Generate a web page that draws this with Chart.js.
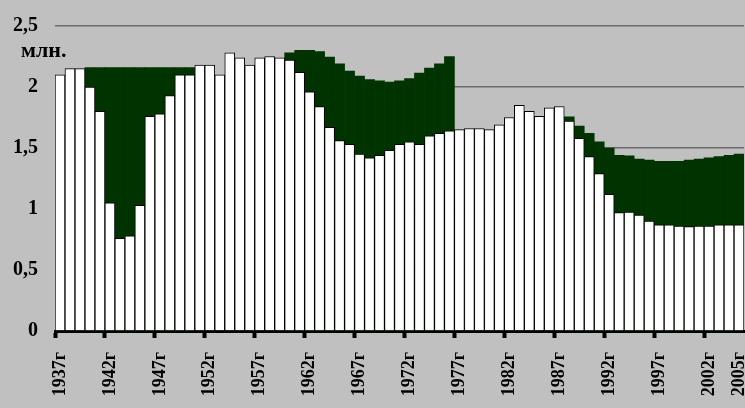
<!DOCTYPE html>
<html>
<head>
<meta charset="utf-8">
<script src="https://cdn.jsdelivr.net/npm/chart.js@4/dist/chart.umd.min.js"></script>
<style>
  html, body { margin: 0; padding: 0; background: #c0c0c0; }
  canvas { display: block; }
</style>
</head>
<body>
<canvas id="barChart" width="745" height="408"></canvas>
<script>
// years on the category axis
const years = [
  "1937г", "1938г", "1939г", "1940г", "1941г", "1942г", "1943г", "1944г", "1945г", "1946г",
  "1947г", "1948г", "1949г", "1950г", "1951г", "1952г", "1953г", "1954г", "1955г", "1956г",
  "1957г", "1958г", "1959г", "1960г", "1961г", "1962г", "1963г", "1964г", "1965г", "1966г",
  "1967г", "1968г", "1969г", "1970г", "1971г", "1972г", "1973г", "1974г", "1975г", "1976г",
  "1977г", "1978г", "1979г", "1980г", "1981г", "1982г", "1983г", "1984г", "1985г", "1986г",
  "1987г", "1988г", "1989г", "1990г", "1991г", "1992г", "1993г", "1994г", "1995г", "1996г",
  "1997г", "1998г", "1999г", "2000г", "2001г", "2002г", "2003г", "2004г", "2005г"
];

// white bars (actual values, mln.)
const actual = [
  2.10, 2.15, 2.15, 2.00, 1.80, 1.05, 0.76, 0.78, 1.03, 1.76,
  1.78, 1.93, 2.10, 2.10, 2.18, 2.18, 2.10, 2.28, 2.24, 2.18,
  2.24, 2.25, 2.24, 2.22, 2.12, 1.96, 1.84, 1.67, 1.56, 1.53,
  1.45, 1.42, 1.44, 1.48, 1.53, 1.55, 1.53, 1.60, 1.62, 1.64,
  1.65, 1.66, 1.66, 1.65, 1.69, 1.75, 1.85, 1.80, 1.76, 1.83,
  1.84, 1.72, 1.58, 1.43, 1.29, 1.12, 0.97, 0.975, 0.95, 0.90,
  0.87, 0.87, 0.86, 0.855, 0.86, 0.86, 0.87, 0.87, 0.87
];

// dark green tops (expected level), null where there is no gap
const expected = [
  null, null, null, 2.16, 2.16, 2.16, 2.16, 2.16, 2.16, 2.16,
  2.16, 2.16, 2.16, 2.16, null, null, null, null, null, null,
  null, null, null, 2.28, 2.30, 2.30, 2.29, 2.245, 2.19, 2.13,
  2.09, 2.06, 2.05, 2.04, 2.05, 2.07, 2.115, 2.155, 2.19, 2.25,
  null, null, null, null, null, null, null, null, null, null,
  null, 1.755, 1.68, 1.62, 1.55, 1.50, 1.44, 1.435, 1.41, 1.40,
  1.39, 1.39, 1.39, 1.40, 1.41, 1.42, 1.43, 1.44, 1.45
];

// labels shown under the axis
const tickLabels = [
  "1937г", "1942г", "1947г", "1952г", "1957г", "1962г", "1967г", "1972г",
  "1977г", "1982г", "1987г", "1992г", "1997г", "2002г", "2005г"
];

const unitLabel = "млн.";
const serif = "'Liberation Serif', 'Times New Roman', serif";

const background = {
  id: "background",
  beforeDraw(chart) {
    const { ctx } = chart;
    ctx.save();
    ctx.fillStyle = "#c0c0c0";
    ctx.fillRect(0, 0, chart.width, chart.height);
    ctx.restore();
  },
  afterDraw(chart) {
    // unit caption under the top tick label
    const { ctx } = chart;
    ctx.save();
    ctx.fillStyle = "#000";
    ctx.font = "bold 22px " + serif;
    ctx.textBaseline = "alphabetic";
    ctx.fillText(unitLabel, 21, 57);
    ctx.restore();
  },
};

const container = document.getElementById("barChart");

new Chart(container, {
  type: "bar",
  data: {
    labels: years,
    datasets: [
      {
        label: "actual",
        data: actual,
        backgroundColor: "#ffffff",
        borderColor: "#000000",
        borderWidth: 1,
        grouped: false,
        order: 0,
        categoryPercentage: 1,
        barPercentage: 1,
      },
      {
        label: "expected",
        data: expected,
        backgroundColor: "#003300",
        borderWidth: 0,
        grouped: false,
        order: 1,
        categoryPercentage: 1,
        barPercentage: 1,
      },
    ],
  },
  options: {
    responsive: false,
    animation: false,
    layout: { padding: { top: 26, right: 1, left: 0, bottom: 0 } },
    plugins: {
      legend: { display: false },
      tooltip: { enabled: false },
    },
    scales: {
      x: {
        z: 1,
        border: { display: true, color: "#000", width: 3 },
        grid: {
          drawOnChartArea: false,
          drawTicks: true,
          tickLength: 7,
          tickWidth: 4,
          tickColor: (ctx) => (ctx.index % 5 === 0 && ctx.index < years.length ? "#000" : "rgba(0,0,0,0)"),
        },
        ticks: {
          autoSkip: false,
          maxRotation: 90,
          minRotation: 90,
          padding: 14,
          color: "#000",
          font: { family: serif, size: 18, weight: "bold" },
          callback: function (value) {
            const label = this.getLabelForValue(value);
            return tickLabels.includes(label) ? label : "";
          },
        },
        afterFit: (scale) => {
          scale.height = 77;
          scale.paddingLeft = 0;
          scale.paddingRight = 0;
        },
      },
      y: {
        min: 0,
        max: 2.5,
        border: { display: false },
        grid: { color: "#6a6a6a", lineWidth: 1.5, drawTicks: false },
        ticks: {
          stepSize: 0.5,
          padding: 17,
          color: "#000",
          font: { family: serif, size: 20, weight: "bold" },
          callback: (value) => String(value).replace(".", ","),
        },
        afterFit: (scale) => {
          scale.width = 55;
          scale.paddingTop = 0;
          scale.paddingBottom = 0;
        },
      },
    },
  },
  plugins: [background],
});
</script>
</body>
</html>
